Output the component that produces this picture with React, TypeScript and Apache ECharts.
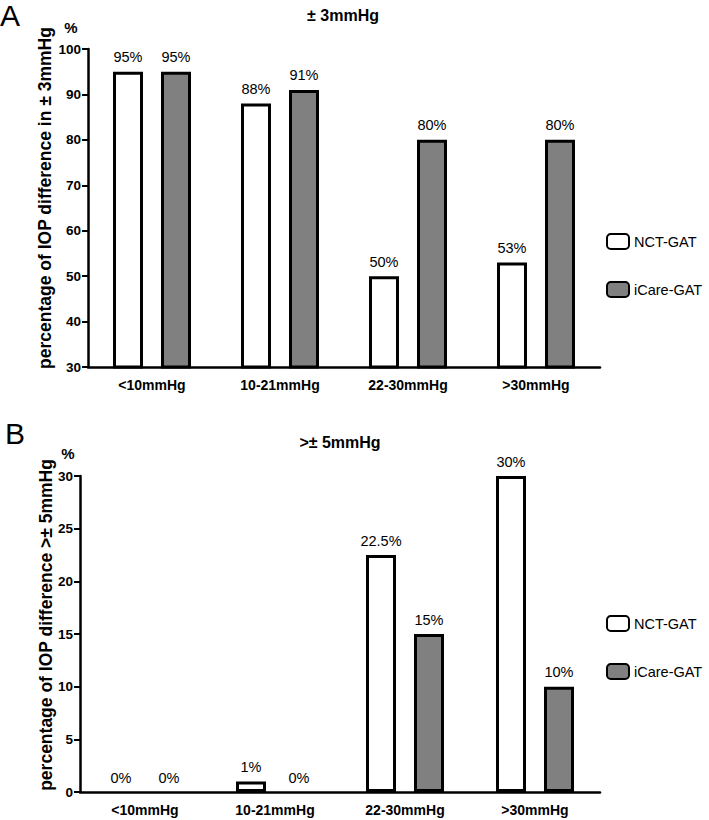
import React, { useEffect, useRef } from "react";
import * as echarts from "echarts";

const categories = ["<10mmHg", "10-21mmHg", "22-30mmHg", ">30mmHg"];
const seriesNames = ["NCT-GAT", "iCare-GAT"];
const nctWithin3 = [95, 88, 50, 53];
const icareWithin3 = [95, 91, 80, 80];
const nctOver5 = [0, 1, 22.5, 30];
const icareOver5 = [0, 0, 15, 10];

const FONT = "'Liberation Sans', Arial, sans-serif";

export default function App() {
  const ref = useRef<HTMLDivElement>(null);
  useEffect(() => {
    if (!ref.current) return;
    const chart = echarts.init(ref.current, null, { renderer: "svg" });
    const axisCommonX = {
      type: "category" as const,
      data: categories,
      axisLine: { lineStyle: { color: "#000", width: 2.5 } },
      axisTick: { alignWithLabel: true, length: 6, lineStyle: { color: "#000", width: 2 } },
      axisLabel: { color: "#000", fontFamily: FONT, fontWeight: "bold" as const, fontSize: 14, margin: 11 },
    };
    const axisCommonY = {
      type: "value" as const,
      axisLine: { show: true, lineStyle: { color: "#000", width: 2.5 } },
      axisTick: { show: true, length: 6, lineStyle: { color: "#000", width: 2 } },
      splitLine: { show: false },
      axisLabel: { color: "#000", fontFamily: FONT, fontWeight: "bold" as const, fontSize: 13.5, margin: 7 },
    };
    const label = {
      show: true,
      position: "top" as const,
      distance: 7,
      color: "#000",
      fontFamily: FONT,
      fontSize: 14.5,
      formatter: "{c}%",
    };
    const white = { color: "#fff", borderColor: "#000", borderWidth: 3 };
    const gray = { color: "#808080", borderColor: "#000", borderWidth: 3 };
    const toData = (arr: number[]) =>
      arr.map((v) => (v === 0 ? { value: v, itemStyle: { borderWidth: 0 } } : v));
    const legendCommon = {
      orient: "vertical" as const,
      left: 601,
      itemWidth: 22,
      itemHeight: 15,
      itemGap: 31,
      data: seriesNames,
      textStyle: { color: "#000", fontFamily: FONT, fontSize: 14.5 },
      selectedMode: false,
    };
    chart.setOption({
      animation: false,
      grid: [
        { left: 88, right: 109, top: 49, bottom: 453 },
        { left: 80, right: 109, top: 476, bottom: 28 },
      ],
      xAxis: [
        { ...axisCommonX, gridIndex: 0 },
        { ...axisCommonX, gridIndex: 1 },
      ],
      yAxis: [
        { ...axisCommonY, gridIndex: 0, min: 30, max: 100, interval: 10 },
        { ...axisCommonY, gridIndex: 1, min: 0, max: 30, interval: 5 },
      ],
      legend: [
        { ...legendCommon, top: 228 },
        { ...legendCommon, top: 610 },
      ],
      series: [
        { name: seriesNames[0], type: "bar", xAxisIndex: 0, yAxisIndex: 0, data: toData(nctWithin3), barWidth: 30, barGap: "60%", itemStyle: white, label },
        { name: seriesNames[1], type: "bar", xAxisIndex: 0, yAxisIndex: 0, data: toData(icareWithin3), barWidth: 30, barGap: "60%", itemStyle: gray, label },
        { name: seriesNames[0], type: "bar", xAxisIndex: 1, yAxisIndex: 1, data: toData(nctOver5), barWidth: 30, barGap: "60%", itemStyle: white, label },
        { name: seriesNames[1], type: "bar", xAxisIndex: 1, yAxisIndex: 1, data: toData(icareOver5), barWidth: 30, barGap: "60%", itemStyle: gray, label },
      ],
      graphic: [
        { type: "text", left: 0, top: 0, style: { text: "A", fontSize: 30, fontFamily: FONT, fill: "#000" } },
        { type: "text", left: 5, top: 418, style: { text: "B", fontSize: 30, fontFamily: FONT, fill: "#000" } },
        { type: "text", x: 343, y: 15, style: { text: "± 3mmHg", fontSize: 16, fontWeight: "bold", fontFamily: FONT, fill: "#000", align: "center", verticalAlign: "middle" } },
        { type: "text", x: 340, y: 442, style: { text: ">± 5mmHg", fontSize: 16, fontWeight: "bold", fontFamily: FONT, fill: "#000", align: "center", verticalAlign: "middle" } },
        { type: "text", x: 71, y: 27, style: { text: "%", fontSize: 15, fontWeight: "bold", fontFamily: FONT, fill: "#000", align: "center", verticalAlign: "middle" } },
        { type: "text", x: 68, y: 453, style: { text: "%", fontSize: 15, fontWeight: "bold", fontFamily: FONT, fill: "#000", align: "center", verticalAlign: "middle" } },
        { type: "text", x: 45, y: 198, rotation: Math.PI / 2, style: { text: "percentage of IOP difference in ± 3mmHg", fontSize: 17.5, fontWeight: "bold", fontFamily: FONT, fill: "#000", align: "center", verticalAlign: "middle" } },
        { type: "text", x: 46, y: 625, rotation: Math.PI / 2, style: { text: "percentage of IOP difference >± 5mmHg", fontSize: 17.5, fontWeight: "bold", fontFamily: FONT, fill: "#000", align: "center", verticalAlign: "middle" } },
      ],
    });
    return () => chart.dispose();
  }, []);
  return <div ref={ref} style={{ width: 709, height: 820, position: "absolute", left: 0, top: 0, background: "#fff" }} />;
}
